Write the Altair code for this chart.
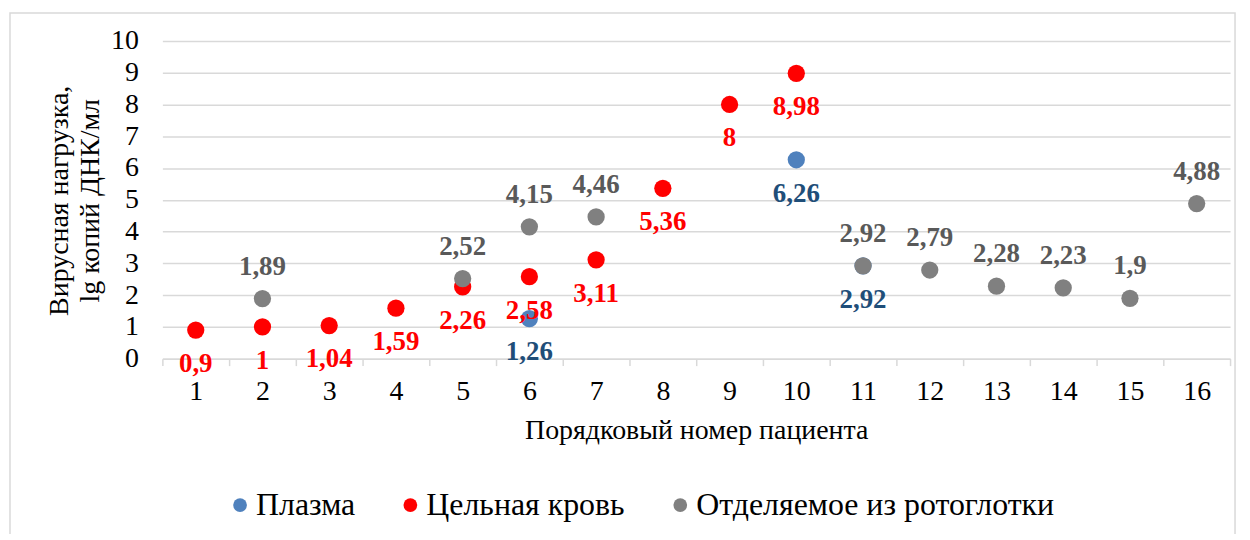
import altair as alt
import pandas as pd

SERIES = ["Плазма", "Цельная кровь", "Отделяемое из ротоглотки"]
POINT_COLORS = ["#4F81BD", "#FF0000", "#808080"]
LABEL_COLORS = ["#1F4E79", "#FF0000", "#595959"]

PATIENTS = [str(i) for i in range(1, 17)]

PLASMA_PATIENTS = [6, 10, 11]
PLASMA_VALUES = [1.26, 6.26, 2.92]

BLOOD_PATIENTS = [1, 2, 3, 4, 5, 6, 7, 8, 9, 10]
BLOOD_VALUES = [0.9, 1, 1.04, 1.59, 2.26, 2.58, 3.11, 5.36, 8, 8.98]

SWAB_PATIENTS = [2, 5, 6, 7, 11, 12, 13, 14, 15, 16]
SWAB_VALUES = [1.89, 2.52, 4.15, 4.46, 2.92, 2.79, 2.28, 2.23, 1.9, 4.88]

rows = []
for name, pats, vals in [
    (SERIES[0], PLASMA_PATIENTS, PLASMA_VALUES),
    (SERIES[1], BLOOD_PATIENTS, BLOOD_VALUES),
    (SERIES[2], SWAB_PATIENTS, SWAB_VALUES),
]:
    for p, v in zip(pats, vals):
        rows.append({
            "series": name,
            "patient": str(p),
            "value": v,
            "label": f"{v:g}".replace(".", ","),
        })
df = pd.DataFrame(rows)

FONT = "'Liberation Serif', 'Times New Roman', serif"

x_enc = alt.X(
    "patient:N",
    sort=PATIENTS,
    scale=alt.Scale(type="band", paddingInner=0, paddingOuter=0, domain=PATIENTS),
    axis=alt.Axis(
        title="Порядковый номер пациента",
        labelAngle=0,
        tickBand="extent",
        tickSize=7,
        tickColor="#D9D9D9",
        tickWidth=1.5,
        domainColor="#D9D9D9",
        domainWidth=1.5,
        grid=False,
        labelPadding=12,
        titlePadding=11,
    ),
)
y_enc = alt.Y(
    "value:Q",
    scale=alt.Scale(domain=[0, 10], nice=False),
    axis=alt.Axis(
        values=list(range(0, 11)),
        title=["Вирусная нагрузка,", "lg копий ДНК/мл"],
        titleAngle=270,
        titleBaseline="alphabetic",
        titleX=-95,
        titleY=160,
        titleLineHeight=31,
        domain=False,
        ticks=False,
        labelPadding=24,
        gridColor="#D9D9D9",
        gridWidth=1.5,
    ),
)

base = alt.Chart(df)

points = base.mark_point(filled=True, opacity=1, size=300, strokeWidth=0).encode(
    x=x_enc,
    y=y_enc,
    color=alt.Color(
        "series:N",
        scale=alt.Scale(domain=SERIES, range=POINT_COLORS),
        legend=alt.Legend(
            title=None,
            orient="none",
            direction="horizontal",
            legendX=62,
            legendY=450,
            symbolType="circle",
            symbolSize=190,
            symbolStrokeWidth=0,
            labelFont=FONT,
            labelFontSize=32,
            labelOffset=0,
            labelLimit=0,
            columnPadding=39,
        ),
    ),
    order=alt.Order("order_idx:Q"),
).transform_calculate(
    order_idx=f"indexof({SERIES!r}, datum.series)"
)

label_color = alt.Color(
    "series:N",
    scale=alt.Scale(domain=SERIES, range=LABEL_COLORS),
    legend=None,
)

labels_below = base.mark_text(
    font=FONT, fontSize=27, fontWeight="bold", baseline="middle", dy=34
).encode(x=x_enc, y=y_enc, text="label:N", color=label_color).transform_filter(
    alt.FieldOneOfPredicate(field="series", oneOf=SERIES[:2])
)

labels_above = base.mark_text(
    font=FONT, fontSize=27, fontWeight="bold", baseline="middle", dy=-32
).encode(x=x_enc, y=y_enc, text="label:N", color=label_color).transform_filter(
    alt.FieldEqualPredicate(field="series", equal=SERIES[2])
)

frame = alt.Chart(pd.DataFrame({"a": [0]})).mark_rect(
    fill=None, stroke="#D9D9D9", strokeWidth=1.5
).encode(
    x=alt.value(-153), x2=alt.value(1077), y=alt.value(-28), y2=alt.value(520)
)

chart = alt.layer(frame, points, labels_below, labels_above).resolve_scale(
    color="independent"
).properties(
    width=1072,
    height=319,
    autosize=alt.AutoSizeParams(type="none"),
    padding={"left": 155, "top": 32, "right": 12, "bottom": 175},
).configure_view(stroke=None).configure_axis(
    labelFont=FONT,
    labelFontSize=28,
    labelColor="#000000",
    titleFont=FONT,
    titleFontSize=28,
    titleFontWeight="normal",
    titleColor="#000000",
).configure_legend(labelColor="#000000")

chart.save("out.html", embed_options={"renderer": "svg", "actions": False})
